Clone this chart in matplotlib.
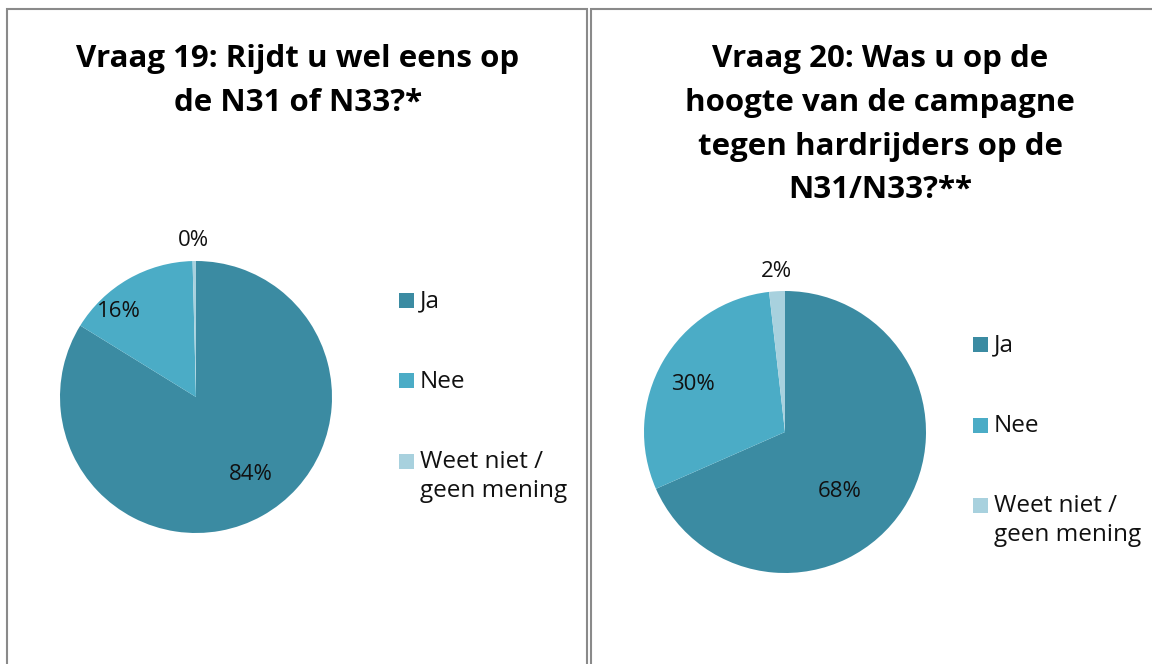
import matplotlib.pyplot as plt
from matplotlib.patches import Rectangle

plt.rcParams['font.family'] = ['Open Sans', 'DejaVu Sans']

categories = ['Ja', 'Nee', 'Weet niet /\ngeen mening']
colors = ['#3b8ba2', '#4bacc6', '#a8d1de']

q19_title = 'Vraag 19: Rijdt u wel eens op\nde N31 of N33?*'
q19_values = [83.8, 15.8, 0.4]
q20_title = 'Vraag 20: Was u op de\nhoogte van de campagne\ntegen hardrijders op de\nN31/N33?**'
q20_values = [68.4, 29.8, 1.8]

W, H = 1152, 664
fig = plt.figure(figsize=(W / 100, H / 100), dpi=100)


def px_axes(x0, y0, x1, y1):
    return fig.add_axes([x0 / W, 1 - y1 / H, (x1 - x0) / W, (y1 - y0) / H])


def draw_pie(ax, values, label_pos):
    wedges, texts, autotexts = ax.pie(
        values, colors=colors, startangle=90, counterclock=False,
        autopct=lambda p: '{:.0f}%'.format(p),
        wedgeprops=dict(linewidth=0),
        textprops=dict(fontsize=16, color='#111111'))
    for t, pos in zip(autotexts, label_pos):
        t.set_position(pos)
    ax.set_xlim(-1, 1)
    ax.set_ylim(-1, 1)
    ax.set_aspect('equal')
    return wedges


def draw_legend(x, y, step):
    # square + label per category, first text line centred on the square
    for i, (lab, col) in enumerate(zip(categories, colors)):
        yc = y + i * step
        fig.patches.append(Rectangle((x / W, 1 - (yc + 7.5) / H), 15 / W, 15 / H,
                                     transform=fig.transFigure,
                                     facecolor=col, edgecolor='none'))
        fig.text((x + 21) / W, 1 - (yc - 11) / H, lab, ha='left',
                 va='top', fontsize=17.5, color='#111111',
                 linespacing=1.26)


# panel borders
for x0, x1 in [(7, 587), (591, 1160)]:
    fig.patches.append(Rectangle((x0 / W, -0.1), (x1 - x0) / W, 1.1 - 9 / H,
                                 transform=fig.transFigure, fill=False,
                                 edgecolor='#8a8a8a', linewidth=1.5))

ax1 = px_axes(60, 261, 332, 533)
draw_pie(ax1, q19_values, [(0.40, -0.57), (-0.57, 0.63), (-0.02, 1.15)])
fig.text(298 / W, 1 - 44 / H, q19_title, ha='center', va='top',
         fontsize=22.5, fontweight='bold', linespacing=1.6)
draw_legend(399, 300, 80.5)

ax2 = px_axes(644, 291, 926, 573)
draw_pie(ax2, q20_values, [(0.39, -0.42), (-0.65, 0.34), (-0.06, 1.14)])
fig.text(880 / W, 1 - 44 / H, q20_title, ha='center', va='top',
         fontsize=22.5, fontweight='bold', linespacing=1.6)
draw_legend(973, 344.5, 80.5)

fig.savefig('out.png', dpi=100)
